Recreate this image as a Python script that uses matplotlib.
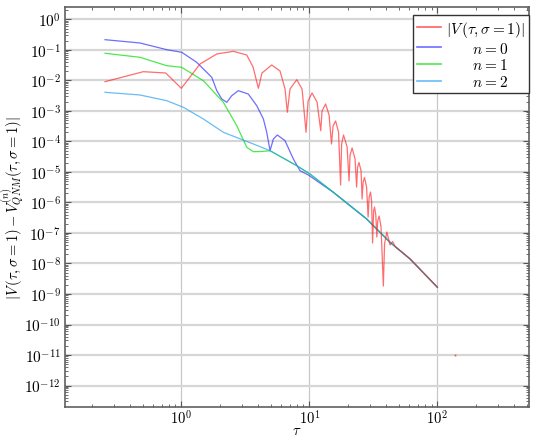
import numpy as np
import matplotlib
matplotlib.use("Agg")
import matplotlib.pyplot as plt
from matplotlib.ticker import LogLocator, NullFormatter, FixedLocator, FuncFormatter

plt.rcParams['font.family'] = 'serif'
plt.rcParams['font.serif'] = ['cmr10', 'DejaVu Serif']
plt.rcParams['mathtext.fontset'] = 'cm'
plt.rcParams['axes.formatter.use_mathtext'] = True

# ---- data (log10 of tau, log10 of value) ----
tail_lt = [1.1875, 1.448, 1.630, 1.787, 2.0]
tail_lv = [-5.666, -6.541, -7.305, -7.852, -8.780]

n0_lt = [-0.596, -0.323, -0.114, 0.003, 0.120, 0.2375, 0.277, 0.316, 0.355, 0.394,
         0.445, 0.523, 0.589, 0.641, 0.667, 0.693, 0.719, 0.750, 0.810, 0.875,
         0.927, 0.992] + tail_lt
n0_lv = [-0.662, -0.770, -0.990, -1.075, -1.403, -1.895, -2.334, -2.607, -2.715, -2.498,
         -2.334, -2.443, -2.826, -3.262, -3.698, -4.302, -3.918, -3.787, -3.974, -4.574,
         -4.957, -5.098] + tail_lv

n1_lt = [-0.596, -0.323, -0.114, 0.003, 0.172, 0.328, 0.433, 0.511, 0.5625, 0.630,
         0.693, 0.9015, 1.005] + tail_lt
n1_lv = [-1.108, -1.239, -1.515, -1.567, -2.007, -2.715, -3.482, -4.190, -4.334, -4.328,
         -4.302, -4.793, -5.066] + tail_lv

n2_lt = [-0.596, -0.323, -0.114, 0.016, 0.172, 0.328, 0.5625, 0.693, 0.9015, 1.005] + tail_lt
n2_lv = [-2.387, -2.475, -2.662, -2.879, -3.262, -3.698, -4.082, -4.302, -4.793, -5.066] + tail_lv

red_lt = [-0.596, -0.297, -0.122, 0.0, 0.146, 0.277, 0.406, 0.511, 0.560, 0.602,
          0.630, 0.706, 0.771, 0.810, 0.828, 0.849, 0.9015, 0.943, 0.974, 0.990,
          1.021, 1.060, 1.089, 1.099, 1.127, 1.154, 1.173, 1.185, 1.205, 1.228,
          1.244, 1.252, 1.267, 1.295, 1.310, 1.318, 1.334, 1.357, 1.369, 1.377,
          1.388, 1.404, 1.412, 1.420, 1.431, 1.447, 1.459, 1.467, 1.478, 1.486,
          1.494, 1.502, 1.509, 1.519, 1.527, 1.534, 1.545, 1.560, 1.578, 1.5875,
          1.605, 1.619, 1.630, 1.650, 1.670, 1.787, 2.0]
red_lv = [-2.039, -1.711, -1.754, -2.256, -1.459, -1.131, -1.043, -1.164, -1.557, -2.256,
          -1.754, -1.492, -1.689, -2.279, -3.043, -2.279, -1.974, -2.279, -3.698, -2.672,
          -2.410, -2.705, -3.646, -3.0, -2.770, -3.131, -4.082, -3.492, -3.328, -3.689,
          -5.426, -4.082, -3.787, -4.180, -5.295, -4.443, -4.213, -4.574, -5.492, -4.836,
          -4.689, -4.967, -5.885, -5.328, -5.180, -5.492, -6.475, -5.820, -5.656, -5.951,
          -7.328, -6.279, -6.148, -6.410, -7.131, -6.607, -6.443, -6.803, -8.738, -7.361,
          -6.967, -7.197, -7.393, -7.279, -7.443, -7.852, -8.780]

stray_lt = [2.138]
stray_lv = [-11.0]

x_major = [1.0, 10.0, 100.0]
y_major_exp = list(range(-12, 1))

labels = [r'$|V\,(\tau,\sigma=1)|$', r'$\qquad n=0$', r'$\qquad n=1$', r'$\qquad n=2$']

fig = plt.figure(figsize=(5.36, 4.39), dpi=100)
ax = fig.add_axes([0.1213, 0.0713, 0.8657, 0.9105])

def p(a):
    return 10.0 ** np.asarray(a, dtype=float)

lw = 0.9
ax.plot(p(n0_lt), p(n0_lv), color='#3030ff', alpha=0.7, lw=lw, label=labels[1], zorder=3)
ax.plot(p(n1_lt), p(n1_lv), color='#00e000', alpha=0.7, lw=lw, label=labels[2], zorder=3)
ax.plot(p(n2_lt), p(n2_lv), color='#2aa0f0', alpha=0.7, lw=lw, label=labels[3], zorder=3)
ax.plot(p(red_lt), p(red_lv), color='#ff2020', alpha=0.65, lw=lw, label=labels[0], zorder=4)
ax.plot(p(stray_lt), p(stray_lv), 's', color='#ff4040', ms=1.2, mew=0, zorder=4)

ax.set_xscale('log')
ax.set_yscale('log')
ax.set_xlim(10 ** -0.9086, 10 ** 2.716)
ax.set_ylim(10 ** -12.695, 10 ** 0.41)

fmt = FuncFormatter(lambda v, pos: r'$10^{%d}$' % round(np.log10(v)))
ax.xaxis.set_major_locator(FixedLocator(x_major))
ax.yaxis.set_major_locator(FixedLocator(p(y_major_exp)))
ax.xaxis.set_major_formatter(fmt)
ax.yaxis.set_major_formatter(fmt)
ax.yaxis.set_minor_locator(LogLocator(base=10, subs=np.arange(2, 10), numticks=30))
ax.xaxis.set_minor_locator(LogLocator(base=10, subs=np.arange(2, 10), numticks=30))
ax.yaxis.set_minor_formatter(NullFormatter())
ax.xaxis.set_minor_formatter(NullFormatter())

ax.grid(True, which='major', axis='y', color='#d6d6d6', lw=1.6, zorder=0)
ax.grid(True, which='major', axis='x', color='#c8c8c8', lw=0.9, zorder=0)

ax.tick_params(which='both', direction='in', top=True, right=True, color='#555555')
ax.tick_params(which='major', length=4, width=0.8, labelsize=11, pad=3)
ax.tick_params(axis='x', which='major', pad=1, labelsize=10.5)
ax.tick_params(which='minor', length=2.2, width=0.6)
for s in ax.spines.values():
    s.set_color('#606060')
    s.set_linewidth(1.2)

ax.set_xlabel(r'$\tau$', fontsize=10.5, va='center')
ax.xaxis.set_label_coords(0.5, -0.058)
ax.set_ylabel(r'$|V\,(\tau,\sigma=1)-V^{(n)}_{QNM}(\tau,\sigma=1)|$', fontsize=10.5)
ax.yaxis.set_label_coords(-0.085, 0.5)

h, l = ax.get_legend_handles_labels()
order = [3, 0, 1, 2]
leg = ax.legend([h[i] for i in order], [l[i] for i in order], loc='upper right',
                bbox_to_anchor=(0.999, 0.98), fancybox=False, framealpha=1,
                edgecolor='#333333', fontsize=11, handlelength=1.6, borderpad=0.25,
                labelspacing=0.12, handletextpad=0.3, borderaxespad=0.0)
leg.get_frame().set_linewidth(1.0)
for line in leg.get_lines():
    line.set_alpha(0.7)
    line.set_linewidth(1.2)

fig.savefig('out.png', dpi=100)
